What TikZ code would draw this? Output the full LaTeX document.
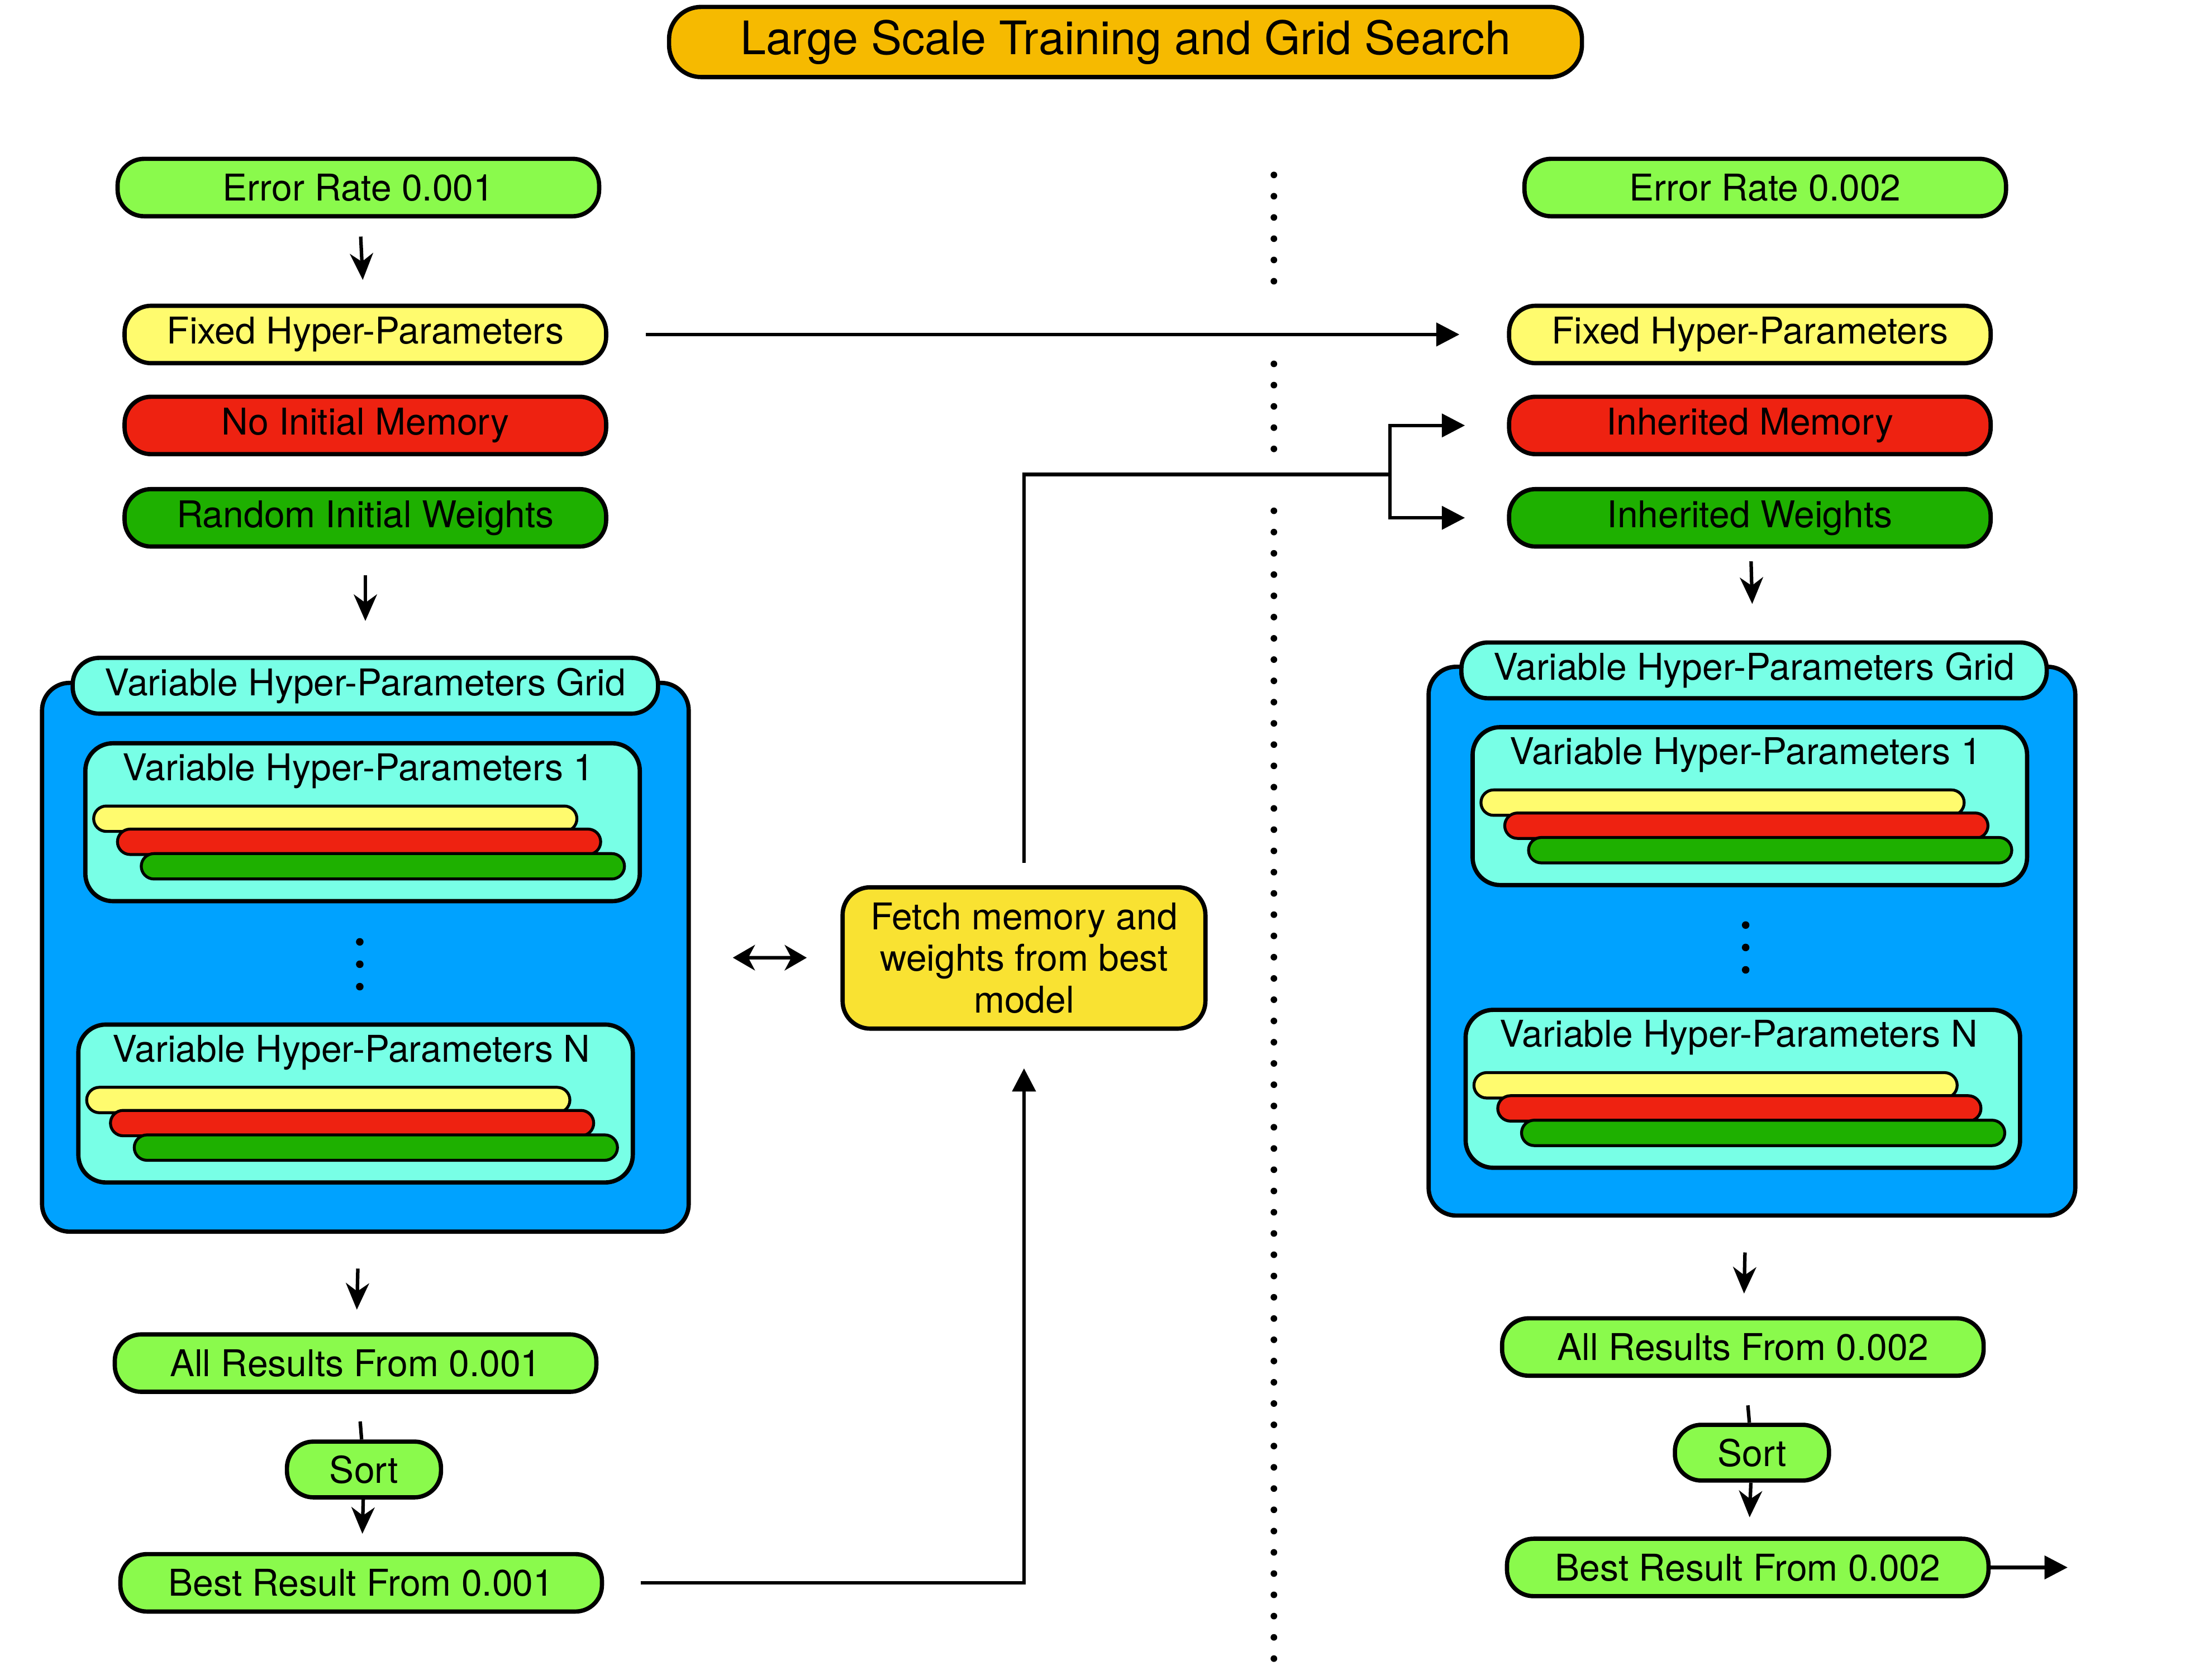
\documentclass[tikz,border=0pt]{standalone}
\usepackage{fontspec}
\setmainfont{TeX Gyre Heros}
\usetikzlibrary{arrows.meta}

\definecolor{titleorange}{RGB}{246,186,0}
\definecolor{ratelime}{RGB}{138,250,76}
\definecolor{fixyellow}{RGB}{255,251,110}
\definecolor{memred}{RGB}{238,34,17}
\definecolor{wgtgreen}{RGB}{30,176,0}
\definecolor{hpcyan}{RGB}{120,255,230}
\definecolor{gridblue}{RGB}{0,162,255}
\definecolor{fetchyellow}{RGB}{249,226,50}

\begin{document}
\begin{tikzpicture}[x=0.2535mm,y=0.2535mm]
        \tikzstyle{every node}+=[inner sep=0pt, font=\fontsize{19}{21.5}\selectfont]
        \tikzstyle{pill}=[draw, line width=2.2pt, rounded corners=4.8mm, minimum width=87.2mm, minimum height=10.4mm]
        \tikzstyle{gridbox}=[draw, line width=2.2pt, rounded corners=5mm, fill=gridblue, minimum width=117.1mm, minimum height=99.4mm]
        \tikzstyle{hpbox}=[draw, line width=2.2pt, rounded corners=5mm, fill=hpcyan, minimum width=100.4mm, minimum height=28.6mm]
        \tikzstyle{hpbar}=[draw, line width=1.5pt, rounded corners=2.3mm, minimum width=87.5mm, minimum height=4.6mm]
        \tikzstyle{dnarrow}=[line width=1.8pt, -{Stealth[length=4.8mm, width=4.2mm, inset=1.5mm]}]
        \tikzstyle{harrow}=[line width=1.8pt, -{Triangle[length=4.2mm, width=4.2mm]}]
        \tikzstyle{bothways}=[line width=1.8pt, {Stealth[length=4mm, width=4.6mm, inset=1.2mm]}-{Stealth[length=4mm, width=4.6mm, inset=1.2mm]}]
        \useasboundingbox (0,0) rectangle (1568,-1200.4);
        % title
        \node [pill, fill=titleorange, minimum width=165.3mm, minimum height=12.7mm, rounded corners=5.8mm, font=\fontsize{23.8}{28}\selectfont] (title) at (804,-30) {Large Scale Training and Grid Search};
        % divider
        \coordinate (d1) at (910,-125);
        \coordinate (d2) at (910,-215);
        \coordinate (d3) at (910,-260);
        \coordinate (d4) at (910,-322);
        \coordinate (d5) at (910,-365);
        \coordinate (d6) at (910,-1192);
        \draw [line width=1.2mm, line cap=round, dash pattern=on 0pt off 3.85mm] (d1) -- (d2) (d3) -- (d4) (d5) -- (d6);
        % error rate 0.001
        \node [pill, fill=ratelime] (er1) at (256,-134) {Error Rate 0.001};
        \node [pill, fill=fixyellow] (fix1) at (261,-239) {Fixed Hyper-Parameters};
        \node [pill, fill=memred] (nm1) at (261,-304) {No Initial Memory};
        \node [pill, fill=wgtgreen] (rw1) at (261,-370) {Random Initial Weights};
        \node [gridbox] (grid1) at (261,-684) {};
        \node [pill, fill=hpcyan, minimum width=106mm, minimum height=10.1mm] (lbl1) at (261,-490) {Variable Hyper-Parameters Grid};
        \node [pill, fill=ratelime] (all1) at (254,-974) {All Results From 0.001};
        \node [pill, fill=ratelime, minimum width=27.9mm, minimum height=10.1mm] (sort1) at (260,-1050) {Sort};
        \node [pill, fill=ratelime] (best1) at (258,-1131) {Best Result From 0.001};
        % error rate 0.002
        \node [pill, fill=ratelime] (er2) at (1261,-134) {Error Rate 0.002};
        \node [pill, fill=fixyellow] (fix2) at (1250,-239) {Fixed Hyper-Parameters};
        \node [pill, fill=memred] (im2) at (1250,-304) {Inherited Memory};
        \node [pill, fill=wgtgreen] (iw2) at (1250,-370) {Inherited Weights};
        \node [gridbox] (grid2) at (1251.5,-672.5) {};
        \node [pill, fill=hpcyan, minimum width=106mm, minimum height=10.1mm] (lbl2) at (1253,-479) {Variable Hyper-Parameters Grid};
        \node [pill, fill=ratelime] (all2) at (1245,-962.5) {All Results From 0.002};
        \node [pill, fill=ratelime, minimum width=27.9mm, minimum height=10.1mm] (sort2) at (1251.5,-1038) {Sort};
        \node [pill, fill=ratelime] (best2) at (1248.5,-1120) {Best Result From 0.002};
        \coordinate (out2) at (1477,-1120);
        % hyper-parameter sets
        \foreach \n/\x/\y/\t in {1a/259/-587.5/1, 1b/254/-788.5/N, 2a/1250/-576/1, 2b/1245/-778/N} {
          \node [hpbox] (hp\n) at (\x,\y) {};
          \node (hp\n t) at ([shift={(-3,36.5)}]hp\n.center) {Variable Hyper-Parameters \t};
          \node [hpbar, fill=fixyellow] (hp\n y) at ([shift={(-19.5,2.5)}]hp\n.center) {};
          \node [hpbar, fill=memred] (hp\n r) at ([shift={(-2.5,-14)}]hp\n.center) {};
          \node [hpbar, fill=wgtgreen] (hp\n g) at ([shift={(14.5,-31.5)}]hp\n.center) {};
        }
        \foreach \d in {0,16,32} {
          \fill (257,-673-\d) circle (2.7);
          \fill (1247,-661-\d) circle (2.7);
        }
        % fetch
        \node [draw, line width=2.2pt, rounded corners=5mm, fill=fetchyellow, minimum width=65.7mm, minimum height=25.6mm, align=center] (fetch) at (731.5,-684.5) {Fetch memory and\\weights from best\\model};
        \coordinate (split) at (993,-339);
        % arrows
        \draw [dnarrow, shorten <=3.3mm, shorten >=4.3mm] (er1) -- (fix1);
        \draw [dnarrow, shorten <=4.8mm, shorten >=6.3mm] (rw1) -- (lbl1);
        \draw [dnarrow, shorten <=6.3mm, shorten >=4.1mm] (grid1) -- (all1);
        \draw [line width=1.8pt, shorten <=5mm] (all1) -- (sort1);
        \draw [dnarrow, shorten >=3.3mm] (sort1) -- (best1);
        \draw [harrow, shorten <=6.6mm, shorten >=6.8mm] (best1) -| (fetch);
        \draw [harrow, shorten <=6.8mm, shorten >=8.6mm] (fix1) -- (fix2);
        \draw [line width=1.8pt, shorten <=4mm] (fetch) |- (split);
        \draw [harrow, shorten >=7.6mm] (split) |- (im2);
        \draw [harrow, shorten >=7.6mm] (split) |- (iw2);
        \draw [bothways, shorten <=7.6mm, shorten >=6.1mm] (grid1) -- (fetch);
        \draw [dnarrow, shorten <=2.3mm, shorten >=6.6mm] (iw2) -- (lbl2);
        \draw [dnarrow, shorten <=6.3mm, shorten >=4.1mm] (grid2) -- (all2);
        \draw [line width=1.8pt, shorten <=5mm] (all2) -- (sort2);
        \draw [dnarrow, shorten >=3.5mm] (sort2) -- (best2);
        \draw [harrow] (best2) -- (out2);
\end{tikzpicture}
\end{document}
